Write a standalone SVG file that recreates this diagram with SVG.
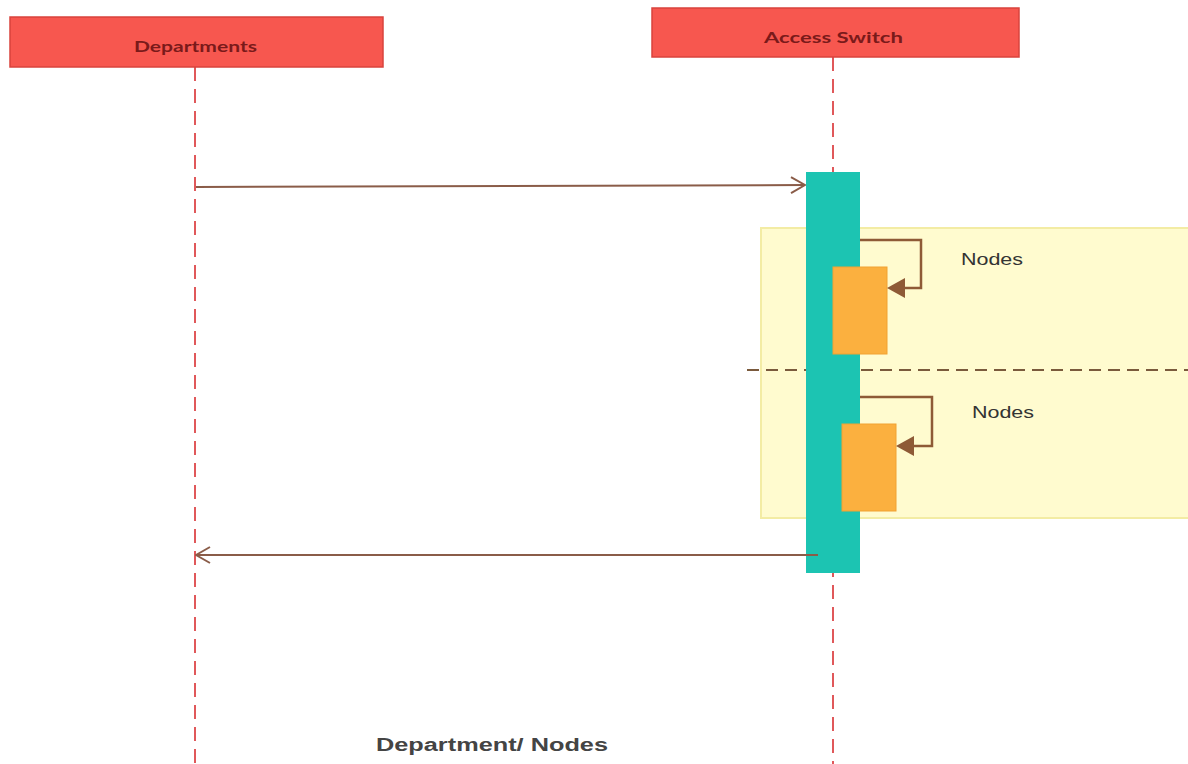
<svg xmlns="http://www.w3.org/2000/svg" width="1188" height="764" viewBox="0 0 1188 764">
  <defs>
    <marker id="open" viewBox="0 0 16 18" refX="15" refY="9" markerWidth="16" markerHeight="18" markerUnits="userSpaceOnUse" orient="auto">
      <path d="M1,1 L15,9 L1,17" fill="none" stroke="#8a5c48" stroke-width="2"/>
    </marker>
  </defs>
  <style>
    .head { fill: #f7574f; stroke: #d9433d; stroke-width: 1.5; }
    .headtxt { font-family: "Lato", "Liberation Sans", sans-serif; font-size: 15px; font-weight: bold; fill: #7a1a1a; }
    .life { stroke: #e0585a; stroke-width: 2; stroke-dasharray: 14 8; fill: none; }
    .msg { stroke: #8a5c48; stroke-width: 2; fill: none; }
    .loop { stroke: #8e5a36; stroke-width: 2.5; fill: none; }
    .tip { fill: #8e5a36; }
    .act { fill: #1cc4b2; }
    .orange { fill: #fbb03f; stroke: #f1a233; stroke-width: 1; }
    .frag { fill: #fffbcf; stroke: #f3eca4; stroke-width: 2; }
    .lbl { font-family: "Liberation Sans", Arial, sans-serif; font-size: 16px; fill: #333333; }
    .title { font-family: "Liberation Sans", Arial, sans-serif; font-size: 18px; font-weight: bold; fill: #444444; }
  </style>

  <rect width="1188" height="764" fill="#ffffff"/>

  <!-- lifelines -->
  <g id="lifelines">
    <line class="life" x1="195" y1="67" x2="195" y2="764"/>
    <line class="life" x1="833" y1="57" x2="833" y2="764"/>
  </g>

  <!-- combined fragment with its divider -->
  <g id="fragment">
    <rect class="frag" x="761" y="228" width="440" height="290"/>
    <line x1="747" y1="370" x2="1188" y2="370" stroke="#7a5a3c" stroke-width="2" stroke-dasharray="12 7"/>
  </g>

  <g id="departments">
    <rect class="head" x="10" y="17" width="373" height="50"/>
    <text class="headtxt" x="134" y="52" textLength="123" lengthAdjust="spacingAndGlyphs">Departments</text>
  </g>

  <g id="access-switch">
    <rect class="head" x="652" y="8" width="367" height="49"/>
    <text class="headtxt" x="764" y="43" textLength="139" lengthAdjust="spacingAndGlyphs">Access  Switch</text>
  </g>

  <g id="activation">
    <rect class="act" x="806" y="172" width="54" height="401"/>
  </g>

  <g id="node-1">
    <rect class="orange" x="833" y="267" width="54" height="87"/>
    <text class="lbl" x="961" y="265" textLength="62" lengthAdjust="spacingAndGlyphs">Nodes</text>
  </g>

  <g id="node-2">
    <rect class="orange" x="842" y="424" width="54" height="87"/>
    <text class="lbl" x="972" y="418" textLength="62" lengthAdjust="spacingAndGlyphs">Nodes</text>
  </g>

  <!-- messages -->
  <g id="connectors">
    <line class="msg" x1="196" y1="187" x2="805" y2="185" marker-end="url(#open)"/>
    <line class="msg" x1="818" y1="555" x2="196" y2="555" marker-end="url(#open)"/>
    <path class="loop" d="M860,240 H921 V288 H905"/>
    <path class="tip" d="M887,288 L905,278 L905,298 Z"/>
    <path class="loop" d="M860,397 H932 V446 H914"/>
    <path class="tip" d="M896,446 L914,436 L914,456 Z"/>
  </g>

  <text class="title" x="376" y="751" textLength="232" lengthAdjust="spacingAndGlyphs">Department/ Nodes</text>
</svg>
